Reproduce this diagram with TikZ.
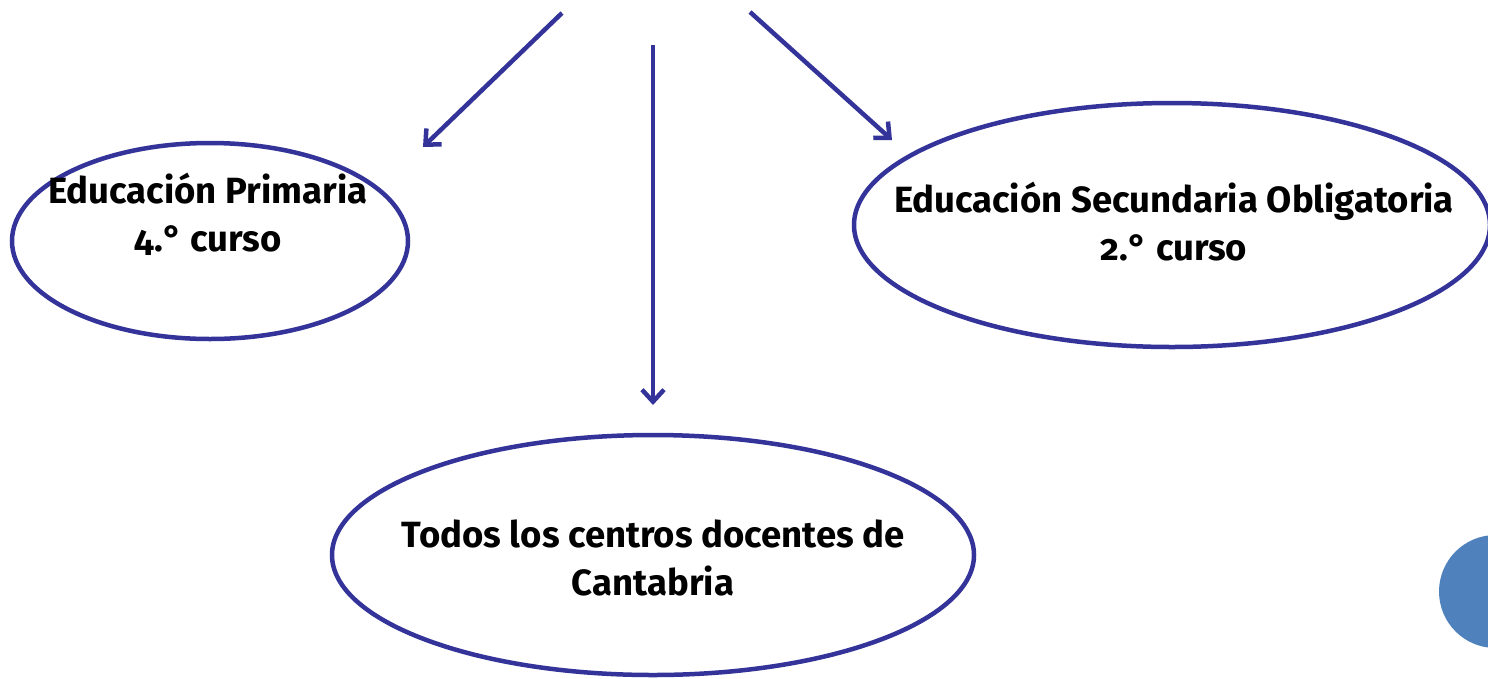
\documentclass[tikz,border=0pt]{standalone}
\usepackage{fontspec}
\setmainfont{Fira Sans}[Numbers=OldStyle]
\usetikzlibrary{shapes.geometric,arrows.meta}
\definecolor{lineblue}{HTML}{333399}
\definecolor{dotblue}{HTML}{4F81BD}
\begin{document}
\begin{tikzpicture}[x=1pt,y=-1pt,
  oval/.style={ellipse,draw=lineblue,line width=4.5pt,inner sep=0pt},
  txt/.style={align=center,inner sep=0pt,font=\fontsize{36.5}{48}\selectfont\bfseries},
  conn/.style={draw=lineblue,line width=4.5pt,-{Straight Barb[length=12pt,width=22pt,line width=4.5pt]}}]
\useasboundingbox (0,0) rectangle (1488,678);
\node[oval,minimum width=396pt,minimum height=196pt] (prim) at (210,241) {};
\node[txt] (primt) at (208,214) {Educación Primaria\\4.° curso};
\node[oval,minimum width=636pt,minimum height=244pt] (eso) at (1172,225) {};
\node[txt] (esot) at (1174,222) {Educación Secundaria Obligatoria\\2.° curso};
\node[oval,minimum width=642pt,minimum height=240pt] (todos) at (653,555) {};
\node[txt] (todost) at (653,558) {Todos los centros docentes de\\Cantabria};
\fill[dotblue] (1495.5,591.5) circle (56.5);
\coordinate (s1) at (562,13);
\coordinate (e1) at (423,147);
\coordinate (s2) at (653,45);
\coordinate (e2) at (653,405);
\coordinate (s3) at (750,12);
\coordinate (e3) at (892,140);
\draw[conn] (s1) -- (e1);
\draw[conn] (s2) -- (e2);
\draw[conn] (s3) -- (e3);
\end{tikzpicture}
\end{document}
